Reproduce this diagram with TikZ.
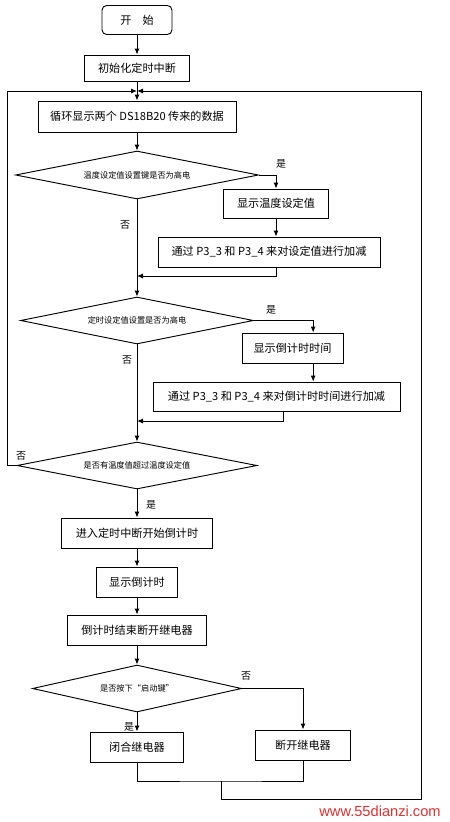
\documentclass[tikz,border=0pt]{standalone}
\usepackage{fontspec}
\setmainfont{Noto Sans CJK SC}
\newfontfamily\webfont{Liberation Sans}
\definecolor{webred}{HTML}{E03030}
\usetikzlibrary{arrows.meta,positioning,shapes.geometric}

\begin{document}
\begin{tikzpicture}[x=0.3mm,y=-0.3mm,
  box/.style={draw,line width=0.8pt,minimum height=9mm,inner sep=2pt,font=\fontsize{9.5}{11}\selectfont},
  cond/.style={draw,diamond,aspect=5,line width=0.8pt,inner sep=0pt,minimum height=14.1mm,font=\fontsize{7}{8}\selectfont},
  lbl/.style={font=\fontsize{8.5}{10}\selectfont},
  arr/.style={-{Latex[length=1.8mm,width=1.5mm]},line width=0.8pt},
  link/.style={line width=0.8pt}]
  \useasboundingbox (0,0) rectangle (450,822);
  % Start
  \node[box,rounded corners=4pt,minimum width=21mm,minimum height=8.7mm] (start) at (137,20) {开\quad 始};
  \node[box,minimum width=31.5mm,minimum height=7.8mm] (init) at (137,68) {初始化定时中断};
  \coordinate (join) at (137,91);
  \coordinate (loopl) at (7,91);
  \node[box,minimum width=59.4mm,minimum height=9.3mm] (show) at (137,116.5) {循环显示两个 DS18B20 传来的数据};
  % Temperature setting
  \node[cond,minimum width=72.9mm,minimum height=14.4mm] (tset) at (137,175) {温度设定值设置键是否为高电};
  \node[box,minimum width=31.5mm,minimum height=8.7mm] (tshow) at (276,203.5) {显示温度设定值};
  \node[box,minimum width=66.6mm] (tadj) at (269,252) {通过 P3\_3 和 P3\_4 来对设定值进行加减};
  \coordinate (tback) at (137,276);
  \node[lbl] (tyes) at (281,164) {是};
  \node[lbl] (tno) at (125,225) {否};
  % Timer setting
  \node[cond,minimum width=69.9mm] (cset) at (137,320.5) {定时设定值设置是否为高电};
  \node[box,minimum width=30.3mm] (cshow) at (292.5,348) {显示倒计时时间};
  \node[box,minimum width=74.1mm,minimum height=8.7mm] (cadj) at (276.5,396.5) {通过 P3\_3 和 P3\_4 来对倒计时时间进行加减};
  \coordinate (cback) at (137,421);
  \node[lbl] (cyes) at (271,310) {是};
  \node[lbl] (cno) at (127,360) {否};
  % Over temperature
  \node[cond,minimum width=72mm] (over) at (137,465.5) {是否有温度值超过温度设定值};
  \node[lbl] (ono) at (21,456) {否};
  \node[lbl] (oyes) at (151,505) {是};
  \node[box,minimum width=45.3mm] (enter) at (137,533) {进入定时中断开始倒计时};
  \node[box,minimum width=24.3mm] (cdshow) at (137,582) {显示倒计时};
  \node[box,minimum width=41.7mm] (cdend) at (137,630) {倒计时结束断开继电器};
  % Start key
  \node[cond,minimum width=62.7mm] (key) at (137,688.5) {是否按下“启动键”};
  \node[lbl] (kno) at (246,676) {否};
  \node[lbl] (kyes) at (129,727) {是};
  \node[box,minimum width=27.9mm] (close) at (137,747) {闭合继电器};
  \node[box,minimum width=28.5mm] (open) at (303,745) {断开继电器};
  \coordinate (merge) at (221,781);
  \coordinate (loopr) at (421,799);
  \node[text=webred,font=\webfont\fontsize{12.5}{14}\selectfont] (web) at (380,811) {www.55dianzi.com};
  % Connectors
  \draw[arr] (start) -- (init);
  \draw[arr] (init) -- (show);
  \draw[arr] (show) -- (tset);
  \draw[arr] (tset.east) -| (tshow.north);
  \draw[arr] (tshow) -- (tshow |- tadj.north);
  \draw[arr] (tadj.south -| tshow.south) |- (tback);
  \draw[arr] (tset) -- (cset);
  \draw[arr] (cset.east) -| ([xshift=6.2mm]cshow.north);
  \draw[arr] ([xshift=6.2mm]cshow.south) -- ([xshift=6.2mm]cshow.south |- cadj.north);
  \draw[arr] ([xshift=2mm]cadj.south) |- (cback);
  \draw[arr] (cset) -- (over);
  \draw[arr] (over.west) -| (loopl) -- (join);
  \draw[arr] (over) -- (enter);
  \draw[arr] (enter) -- (cdshow);
  \draw[arr] (cdshow) -- (cdend);
  \draw[arr] (cdend) -- (key);
  \draw[arr] (key) -- (close);
  \draw[arr] (key.east) -| (open.north);
  \draw[link] (close.south) |- (merge) -| (open.south);
  \draw[arr] (merge) |- (loopr) |- (join);
\end{tikzpicture}
\end{document}
